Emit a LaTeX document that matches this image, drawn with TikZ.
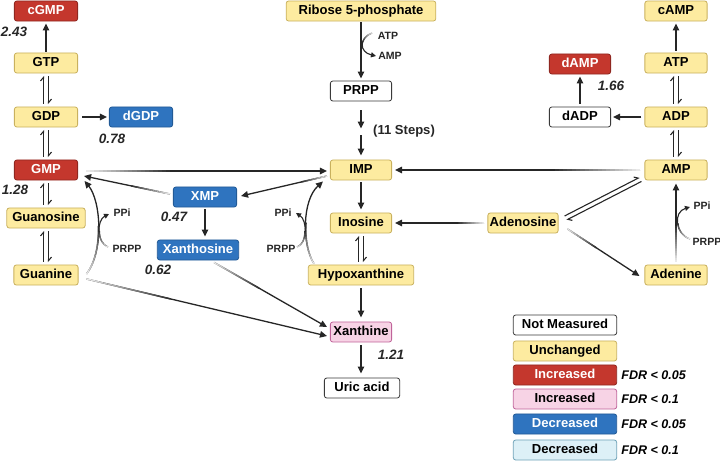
\documentclass[tikz,border=0pt]{standalone}
\usepackage{fontspec}
\setmainfont{Liberation Sans}
\usetikzlibrary{arrows.meta,calc}
\definecolor{ln}{HTML}{262626}
\definecolor{yelF}{HTML}{FDEBA0}
\definecolor{yelD}{HTML}{C9B15E}
\definecolor{redF}{HTML}{C4372D}
\definecolor{redD}{HTML}{8F2720}
\definecolor{bluF}{HTML}{2F74BF}
\definecolor{bluD}{HTML}{225A96}
\definecolor{pnkF}{HTML}{F7D3E5}
\definecolor{pnkD}{HTML}{C0649A}
\definecolor{lbF}{HTML}{DDF0F7}
\definecolor{lbD}{HTML}{6FA3B8}
\definecolor{whD}{HTML}{3A3A3A}
% #1 style, #2 path, #3 faded fraction, #4 overlay width
\newcommand{\fadearrow}[4]{%
  \draw[#1] #2;
  \foreach \k in {0,...,20}{\path #2 coordinate[pos=\k*#3/20] (fp\k);}
  \foreach \k in {0,...,19}{%
    \pgfmathtruncatemacro\fn{\k+1}%
    \pgfmathtruncatemacro\fc{10+\k*90/20}%
    \draw[#1,-,draw=ln!\fc!white,line width=#4,line cap=butt] (fp\k) -- (fp\fn);}
}
\newcommand{\eqv}[2]{%
  \draw[harp] ([xshift=-2.5pt,yshift=3pt]#2.north) -- ([xshift=-2.5pt,yshift=-2.5pt]#1.south);
  \draw[harp] ([xshift=2.5pt,yshift=-3pt]#1.south) -- ([xshift=2.5pt,yshift=2.5pt]#2.north);}
\begin{document}
\begin{tikzpicture}[x=0.035cm,y=-0.035cm,
  box/.style={rounded corners=2.5pt, line width=0.8pt, minimum height=20pt, inner sep=0pt,
    text height=9.6pt, text depth=2pt, font=\bfseries\fontsize{13}{15}\selectfont},
  yb/.style={box, fill=yelF, draw=yelD, text=black},
  rb/.style={box, fill=redF, draw=redD, text=white},
  bb/.style={box, fill=bluF, draw=bluD, text=white},
  pb/.style={box, fill=pnkF, draw=pnkD, text=black},
  lb/.style={box, fill=lbF, draw=lbD, text=black},
  wb/.style={box, fill=white, draw=whD, text=black},
  w/.style={minimum width=#1pt},
  arr/.style={draw=ln, line width=1.3pt, -{Triangle[length=7pt,width=6.5pt]}},
  sarr/.style={draw=ln, line width=1.1pt, -{Triangle[length=5pt,width=5pt]}},
  harp/.style={draw=ln, line width=1.1pt, -{Straight Barb[left,length=3.5pt,width=6pt]}},
  num/.style={font=\bfseries\itshape\fontsize{13.5}{15}\selectfont, text=ln, inner sep=0pt},
  fdr/.style={font=\bfseries\itshape\fontsize{12.5}{14}\selectfont, text=black, inner sep=0pt},
  sm/.style={font=\bfseries\fontsize{10.5}{12}\selectfont, text=ln, inner sep=0pt},
  stp/.style={font=\bfseries\fontsize{13}{15}\selectfont, text=ln, inner sep=0pt},
]
\useasboundingbox (0,0) rectangle (720,462);

% ---------- nodes ----------
\node[rb,w=63] (cgmp) at (46,11) {cGMP};
\node[yb,w=63] (gtp) at (46,63) {GTP};
\node[yb,w=63] (gdp) at (46,117) {GDP};
\node[bb,w=63] (dgdp) at (141,117) {dGDP};
\node[rb,w=63] (gmp) at (46,170) {GMP};
\node[yb,w=78] (guo) at (46,218) {Guanosine};
\node[yb,w=64] (gua) at (46,275) {Guanine};
\node[bb,w=63] (xmp) at (205,197) {XMP};
\node[bb,w=81] (xao) at (198,250) {Xanthosine};
\node[yb,w=149] (r5p) at (361,11) {Ribose 5-phosphate};
\node[wb,w=61] (prpp) at (361,91) {PRPP};
\node[yb,w=61] (imp) at (361,170) {IMP};
\node[yb,w=61] (ino) at (361,223) {Inosine};
\node[yb,w=105] (hyp) at (361,275) {Hypoxanthine};
\node[pb,w=61] (xan) at (361,332) {Xanthine};
\node[wb,w=75] (uric) at (362,388) {Uric acid};
\node[yb,w=70] (ado) at (523,223) {Adenosine};
\node[yb,w=62] (ade) at (676,275) {Adenine};
\node[yb,w=62] (amp) at (676,170) {AMP};
\node[yb,w=62] (adp) at (676,117) {ADP};
\node[yb,w=62] (atp) at (676,63) {ATP};
\node[yb,w=62] (camp) at (676,11) {cAMP};
\node[wb,w=61] (dadp) at (580,117) {dADP};
\node[rb,w=61] (damp) at (580,64) {dAMP};

% small labels
\node[sm] (atpL) at (388,36) {ATP};
\node[sm] (ampL) at (390,56) {AMP};
\node[stp,anchor=west] (steps) at (373,131) {(11 Steps)};
\node[sm] (ppiA) at (122,213) {PPi};
\node[sm] (prppA) at (127,249) {PRPP};
\node[sm] (ppiB) at (283,213) {PPi};
\node[sm] (prppB) at (281,249) {PRPP};
\node[sm] (ppiC) at (702,206) {PPi};
\node[sm] (prppC) at (707,242) {PRPP};

% fold changes
\node[num] (n1) at (14,32) {2.43};
\node[num] (n2) at (112,139) {0.78};
\node[num] (n3) at (15,190) {1.28};
\node[num] (n4) at (174,217) {0.47};
\node[num] (n5) at (158,270) {0.62};
\node[num] (n6) at (391,355) {1.21};
\node[num] (n7) at (611,86) {1.66};

% legend
\node[wb,w=103] (l1) at (565,325) {Not Measured};
\node[yb,w=103] (l2) at (565,351) {Unchanged};
\node[rb,w=103] (l3) at (565,375) {Increased};
\node[pb,w=103] (l4) at (565,399) {Increased};
\node[bb,w=103] (l5) at (565,424) {Decreased};
\node[lb,w=103] (l6) at (565,450) {Decreased};
\node[fdr,anchor=west] (f3) at ([xshift=4pt]l3.east) {FDR < 0.05};
\node[fdr,anchor=west] (f4) at ([xshift=4pt]l4.east) {FDR < 0.1};
\node[fdr,anchor=west] (f5) at ([xshift=4pt]l5.east) {FDR < 0.05};
\node[fdr,anchor=west] (f6) at ([xshift=4pt]l6.east) {FDR < 0.1};

% ---------- connectors ----------
% guanine branch
\draw[arr,shorten <=1pt,shorten >=2pt] (gtp) -- (cgmp);
\eqv{gtp}{gdp}
\eqv{gdp}{gmp}
\eqv{gmp}{guo}
\eqv{guo}{gua}
\draw[arr,shorten <=4pt,shorten >=2pt] (gdp) -- (dgdp);
\fadearrow{arr}{($(gmp.east)+(8,1)$) -- ($(imp.west)+(-3,1)$)}{0.35}{1.5pt}
\fadearrow{arr}{($(xmp.west)+(-3,-3)$) -- ($(gmp.east)+(6,6)$)}{0.45}{1.5pt}
\fadearrow{arr}{($(imp.west)+(-3,6)$) -- ($(xmp.east)+(4,-1)$)}{0.3}{1.5pt}
\draw[arr,shorten <=2pt,shorten >=3pt] (xmp.south) -- (xmp.south |- xao.north);
\fadearrow{arr}{($(gua.east)+(8,-1)$) .. controls ($(gua.east)+(26,-25)$) and ($(gmp.south east)+(22.5,20)$) .. ($(gmp.south east)+(6.5,0.5)$)}{0.5}{1.5pt}
\fadearrow{sarr}{($(prppA)+(-19,-2)$) .. controls ($(prppA)+(-31,-7)$) and ($(ppiA)+(-25,7)$) .. ($(ppiA)+(-13,1)$)}{0.5}{1.3pt}
\fadearrow{arr}{($(xao.south east)+(-25,2)$) -- ($(xan.west)+(-3,-5)$)}{0.4}{1.5pt}
\fadearrow{arr}{($(gua.east)+(8,4)$) -- ($(xan.west)+(-3,4)$)}{0.35}{1.5pt}

% central column
\draw[arr,shorten <=1pt,shorten >=2pt] (r5p) -- (prpp);
\fadearrow{sarr}{($(atpL)+(-16,-3)$) .. controls ($(atpL)+(-29,2)$) and ($(ampL)+(-31,-4)$) .. ($(ampL)+(-14,0)$)}{0.4}{1.3pt}
\draw[arr] ([yshift=-9pt]prpp.south) -- ([yshift=-27pt]prpp.south);
\draw[arr] ([yshift=24pt]imp.north) -- ([yshift=4pt]imp.north);
\draw[arr,shorten <=2pt,shorten >=3pt] (imp) -- (ino);
\eqv{ino}{hyp}
\fadearrow{arr}{($(hyp.north west)+(6,-1)$) .. controls ($(hyp.north west)+(-6,-20)$) and ($(imp.south west)+(-28,20)$) .. ($(imp.south west)+(-7,1)$)}{0.5}{1.5pt}
\fadearrow{sarr}{($(prppB)+(16,-2)$) .. controls ($(prppB)+(27,-6)$) and ($(ppiB)+(24,7)$) .. ($(ppiB)+(13,0)$)}{0.5}{1.3pt}
\draw[arr,shorten <=3pt,shorten >=4pt] (hyp) -- (xan);
\draw[arr,shorten <=3pt,shorten >=4pt] (xan.south) -- (xan.south |- uric.north);

% adenine branch
\fadearrow{arr}{($(amp.west)+(-4,0)$) -- ($(imp.east)+(3,0)$)}{0.35}{1.5pt}
\fadearrow{arr}{($(ado.west)+(-3,0)$) -- ($(ino.east)+(3,0)$)}{0.3}{1.5pt}
\draw[harp] ($(ado.east)+(6,-7)$) -- ($(amp.south west)+(-5,-3)$);
\draw[harp] ($(amp.south west)+(-3,1)$) -- ($(ado.east)+(8,-3)$);
\fadearrow{arr}{($(ado.east)+(9,6)$) -- ($(ade.west)+(-5,1)$)}{0.4}{1.5pt}
\fadearrow{arr}{($(ade.north)+(0,-3)$) -- ($(amp.south)+(0,3)$)}{0.45}{1.5pt}
\fadearrow{sarr}{($(prppC)+(-17,-3)$) .. controls ($(prppC)+(-32,-8)$) and ($(ppiC)+(-29,6)$) .. ($(ppiC)+(-12,1)$)}{0.5}{1.3pt}
\eqv{atp}{adp}
\eqv{adp}{amp}
\draw[arr,shorten <=2pt,shorten >=2pt] (atp) -- (camp);
\draw[arr,shorten <=3pt,shorten >=2pt] (adp) -- (dadp);
\draw[arr,shorten <=3pt,shorten >=2pt] (dadp) -- (damp);
\end{tikzpicture}
\end{document}
